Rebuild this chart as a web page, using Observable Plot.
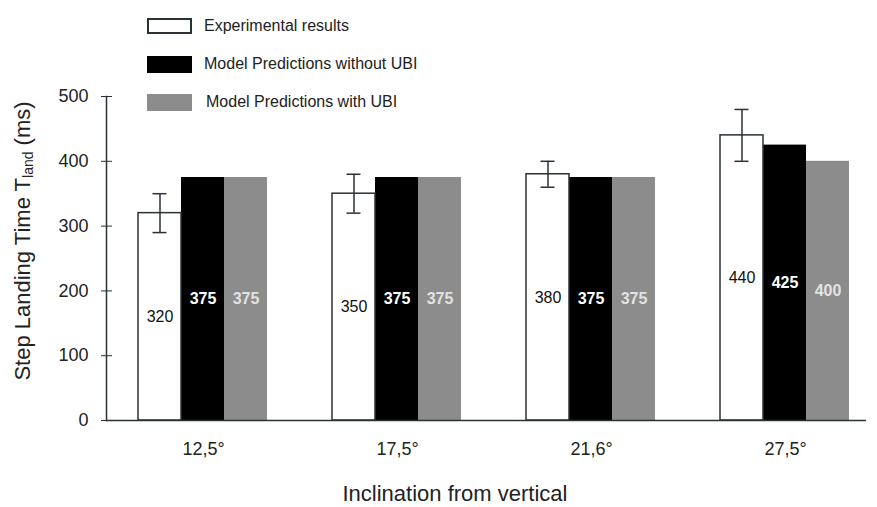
<!DOCTYPE html>
<html>
<head>
<meta charset="utf-8">
<script src="https://cdn.jsdelivr.net/npm/d3@7"></script>
<script src="https://cdn.jsdelivr.net/npm/@observablehq/plot@0.6"></script>
<style>
  html, body { margin: 0; padding: 0; background: #fff; }
  body { width: 877px; height: 507px; position: relative; overflow: hidden; font-family: "Liberation Sans", Arial, sans-serif; color: #222; }
  #chart { position: absolute; left: 0; top: 0; width: 866px; height: 507px; overflow: hidden; }
  #chart svg { max-width: none !important; font-family: "Liberation Sans", Arial, sans-serif !important; color: #222; }
  .lg-box { position: absolute; left: 147px; width: 45px; height: 16px; box-sizing: border-box; }
  .lg-text { position: absolute; left: 204px; font-size: 16px; line-height: 16px; color: #222; }
  #ylabel { position: absolute; left: 23px; top: 241px; width: 440px; margin-left: -220px; text-align: center; font-size: 22px; line-height: 24px; margin-top: -12px; transform: rotate(-90deg); white-space: nowrap; color: #222; }
  #ylabel sub { font-size: 14px; vertical-align: -3px; line-height: 0; }
  #xlabel { position: absolute; left: 255px; width: 400px; top: 483px; text-align: center; font-size: 22px; line-height: 22px; color: #222; }
</style>
</head>
<body>
<div id="chart"></div>
<div id="legend"></div>
<div id="ylabel">Step Landing Time T<sub>land</sub> (ms)</div>
<div id="xlabel">Inclination from vertical</div>
<script>
const inclinations = ["12,5°", "17,5°", "21,6°", "27,5°"];
const seriesNames = ["Experimental results", "Model Predictions without UBI", "Model Predictions with UBI"];
const experimental = [320, 350, 380, 440];
const experimentalErr = [30, 30, 20, 40];
const withoutUBI = [375, 375, 375, 425];
const withUBI = [375, 375, 375, 400];
const yTicks = [0, 100, 200, 300, 400, 500];
const seriesColors = ["#ffffff", "#000000", "#8c8c8c"];

const rows = [];
inclinations.forEach((inc, i) => {
  rows.push({inc, series: seriesNames[0], value: experimental[i], err: experimentalErr[i]});
  rows.push({inc, series: seriesNames[1], value: withoutUBI[i], err: null});
  rows.push({inc, series: seriesNames[2], value: withUBI[i], err: null});
});
const expRows = rows.filter(d => d.series === seriesNames[0]);
const noUbiRows = rows.filter(d => d.series === seriesNames[1]);
const ubiRows = rows.filter(d => d.series === seriesNames[2]);
const modelRows = rows.filter(d => d.series !== seriesNames[0]);

const ink = "#2a3236";

const plot = Plot.plot({
  width: 877,
  height: 507,
  marginLeft: 105,
  marginRight: -5,
  marginTop: 96,
  marginBottom: 87,
  fx: {domain: inclinations, padding: 0, label: null},
  x: {domain: seriesNames, paddingInner: 0, paddingOuter: 0.74, align: 0.49, axis: null},
  y: {domain: [0, 500]},
  color: {domain: seriesNames, range: seriesColors},
  marks: [
    Plot.barY(modelRows, {fx: "inc", x: "series", y: "value", fill: "series"}),
    Plot.barY(expRows, {fx: "inc", x: "series", y: "value", fill: "white", stroke: ink, strokeWidth: 1.5}),
    Plot.ruleX(expRows, {fx: "inc", x: "series", y1: d => d.value - d.err, y2: d => d.value + d.err, stroke: ink, strokeWidth: 1.5}),
    Plot.tickY(expRows, {fx: "inc", x: "series", y: d => d.value + d.err, stroke: ink, strokeWidth: 1.5, insetLeft: 14.5, insetRight: 14.5}),
    Plot.tickY(expRows, {fx: "inc", x: "series", y: d => d.value - d.err, stroke: ink, strokeWidth: 1.5, insetLeft: 14.5, insetRight: 14.5}),
    Plot.text(expRows, {fx: "inc", x: "series", y: d => d.value / 2, text: d => String(d.value), fill: "#111", fontSize: 16}),
    Plot.text(noUbiRows, {fx: "inc", x: "series", y: d => d.value / 2, text: d => String(d.value), fill: "#ffffff", fontSize: 16, fontWeight: "bold"}),
    Plot.text(ubiRows, {fx: "inc", x: "series", y: d => d.value / 2, text: d => String(d.value), fill: "#e2e2e2", fontSize: 16, fontWeight: "bold"}),
    Plot.ruleY([0], {stroke: ink, strokeWidth: 1.5}),
    Plot.frame({anchor: "left", facetAnchor: "left", stroke: ink, strokeWidth: 1.5}),
    Plot.axisY({ticks: yTicks, tickSize: 11, dx: 6, tickPadding: 13, label: null, fontSize: 18, stroke: ink}),
    Plot.axisFx({anchor: "bottom", tickSize: 0, tickPadding: 22, fontSize: 18, label: null})
  ]
});
document.getElementById("chart").appendChild(plot);

// legend (HTML)
const legend = document.getElementById("legend");
const legendTops = [18, 56, 94];
seriesNames.forEach((name, i) => {
  const box = document.createElement("div");
  box.className = "lg-box";
  box.style.top = legendTops[i] + "px";
  box.style.height = (i === 0 ? 16 : 17) + "px";
  box.style.background = seriesColors[i];
  if (i === 0) box.style.border = "2px solid " + ink;
  legend.appendChild(box);
  const t = document.createElement("div");
  t.className = "lg-text";
  t.style.top = legendTops[i] + "px";
  if (i === 2) t.style.left = "206px";
  t.textContent = name;
  legend.appendChild(t);
});
</script>
</body>
</html>
